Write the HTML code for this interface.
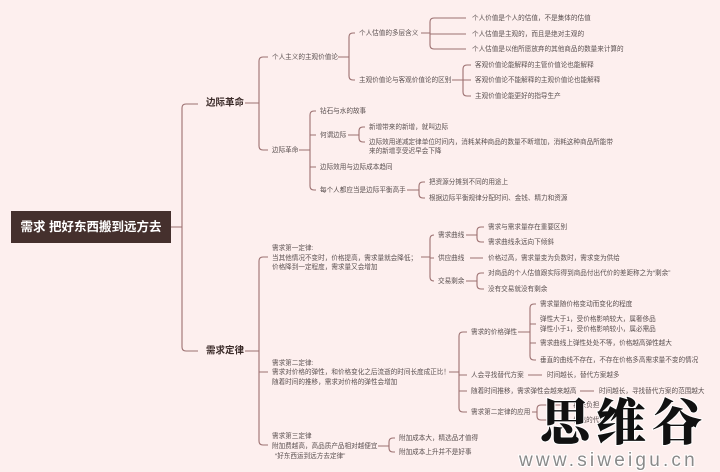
<!DOCTYPE html>
<html><head><meta charset="utf-8"><style>
html,body{margin:0;padding:0;background:#fdefee;}
svg{display:block}
text{font-family:"Liberation Sans","Noto Sans CJK SC",sans-serif;font-size:6.6px;fill:#5a5050;dominant-baseline:middle}
.h{font-size:9.5px;font-weight:bold;fill:#3a2a28}
</style></head><body>
<svg id="s" width="720" height="472" xmlns="http://www.w3.org/2000/svg">
<rect width="720" height="472" fill="#fdefee"/>
<g id="lines" fill="none" stroke="#9c7070" stroke-width="1.1"></g>
<rect x="11" y="211" width="160" height="32" fill="#45302d"/>
<text x="91" y="227.5" text-anchor="middle" style="font-size:12.5px;font-weight:bold;fill:#fff">需求 把好东西搬到远方去</text>
<text class="h" x="206" y="103">边际革命</text>
<text class="h" x="206" y="351">需求定律</text>
<text x="272" y="57">个人主义的主观价值论</text>
<text x="359" y="33">个人估值的多层含义</text>
<text x="472" y="18">个人价值是个人的估值，不是集体的估值</text>
<text x="472" y="34">个人估值是主观的，而且是绝对主观的</text>
<text x="472" y="49">个人估值是以他所愿放弃的其他商品的数量来计算的</text>
<text x="359" y="80">主观价值论与客观价值论的区别</text>
<text x="475" y="65">客观价值论能解释的主管价值论也能解释</text>
<text x="475" y="80">客观价值论不能解释的主观价值论也能解释</text>
<text x="475" y="96">主观价值论能更好的指导生产</text>
<text x="272" y="150">边际革命</text>
<text x="320" y="111">钻石与水的故事</text>
<text x="320" y="135">何谓边际</text>
<text x="369" y="127">新增带来的新增，就叫边际</text>
<text x="369" y="142">边际效用递减定律单位时间内，消耗某种商品的数量不断增加，消耗这种商品所能带</text>
<text x="369" y="151">来的新增享受迟早会下降</text>
<text x="320" y="167">边际效用与边际成本趋同</text>
<text x="320" y="190">每个人都应当是边际平衡高手</text>
<text x="429" y="182">把资源分摊到不同的用途上</text>
<text x="429" y="198">根据边际平衡规律分配时间、金钱、精力和资源</text>
<text x="272" y="248">需求第一定律:</text>
<text x="272" y="258">当其他情况不变时，价格提高，需求量就会降低；</text>
<text x="272" y="267">价格降到一定程度，需求量又会增加</text>
<text x="438" y="235">需求曲线</text>
<text x="488" y="227">需求与需求量存在重要区别</text>
<text x="488" y="242">需求曲线永远向下倾斜</text>
<text x="438" y="258">供应曲线</text>
<text x="488" y="258">价格过高，需求量变为负数时，需求变为供给</text>
<text x="438" y="281">交易剩余</text>
<text x="488" y="273">对商品的个人估值跟实际得到商品付出代价的差距称之为“剩余”</text>
<text x="488" y="289">没有交易就没有剩余</text>
<text x="272" y="363">需求第二定律:</text>
<text x="272" y="372">需求对价格的弹性，和价格变化之后流逝的时间长度成正比！</text>
<text x="272" y="382">随着时间的推移，需求对价格的弹性会增加</text>
<text x="471" y="332">需求的价格弹性</text>
<text x="540" y="304">需求量随价格变动而变化的程度</text>
<text x="540" y="319">弹性大于1，受价格影响较大，属奢侈品</text>
<text x="540" y="329">弹性小于1，受价格影响较小，属必需品</text>
<text x="540" y="343">需求曲线上弹性处处不等，价格越高弹性越大</text>
<text x="540" y="360">垂直的曲线不存在，不存在价格多高需求量不变的情况</text>
<text x="471" y="375">人会寻找替代方案</text>
<text x="547" y="375">时间越长，替代方案越多</text>
<text x="471" y="391">随着时间推移，需求弹性会越来越高</text>
<text x="599" y="391">时间越长，寻找替代方案的范围越大</text>
<text x="471" y="412">需求第二定律的应用</text>
<text x="573" y="405">将来负担</text>
<text x="573" y="420">付出的代价</text>
<text x="272" y="436">需求第三定律</text>
<text x="272" y="446">附加费越高，高品质产品相对越便宜</text>
<text x="275" y="456">“好东西运到远方去定律”</text>
<text x="399" y="438">附加成本大，精选品才值得</text>
<text x="399" y="452">附加成本上升并不是好事</text>
<text x="540" y="427" style="font-family:'Noto Serif CJK SC',serif;font-size:50px;font-weight:900;fill:#111;stroke:#fff;stroke-width:2;paint-order:stroke;letter-spacing:6px">思维谷</text>
<text x="519" y="461" style="font-size:19px;fill:#8a8a8a;stroke:#fff;stroke-width:2;paint-order:stroke;letter-spacing:3.2px">www.siweigu.cn</text>
</svg>
<script>
var g=document.getElementById('lines'),d='';
function L(x1,y1,x2){d+='M'+x1+','+y1+'H'+x2;}
function B(px,py,bx,k){var r=4;L(px,py,bx);var ys=k.map(function(a){return a[1]});var mn=Math.min.apply(0,ys),mx=Math.max.apply(0,ys);
d+='M'+bx+','+(mn+r)+'V'+(mx-r);
k.forEach(function(a){var cy=a[1],cx=a[0];
 if(cy==mn){d+='M'+bx+','+(cy+r)+'Q'+bx+','+cy+' '+(bx+r)+','+cy+'H'+cx;}
 else if(cy==mx){d+='M'+bx+','+(cy-r)+'Q'+bx+','+cy+' '+(bx+r)+','+cy+'H'+cx;}
 else L(bx,cy,cx);});}
B(171,227,182,[[198,104],[198,351]]);
B(245,103,259,[[268,57],[268,150]]);
B(338,57,349,[[355,33],[355,80]]);
B(421,33,430,[[466,18],[466,34],[466,49]]);
B(452,80,463,[[471,65],[471,80],[471,96]]);
B(299,150,310,[[316,111],[316,135],[316,167],[316,190]]);
B(348,135,359,[[365,127],[365,142]]);
B(407,190,419,[[425,182],[425,198]]);
B(245,351,259,[[268,257],[268,372],[268,445]]);
B(421,257,430,[[434,235],[434,258],[434,281]]);
B(466,235,477,[[484,227],[484,242]]);
L(470,258,483);
B(466,281,477,[[484,273],[484,289]]);
B(449,372,459,[[467,332],[467,375],[467,391],[467,412]]);
B(518,332,530,[[536,304],[536,324],[536,343],[536,360]]);
L(528,375,542);
L(580,391,594);
B(532,412,537,[[569,405],[569,420]]);
B(378,446,389,[[395,438],[395,452]]);
g.innerHTML='<path d="'+d+'"/>';
</script>
</body></html>
